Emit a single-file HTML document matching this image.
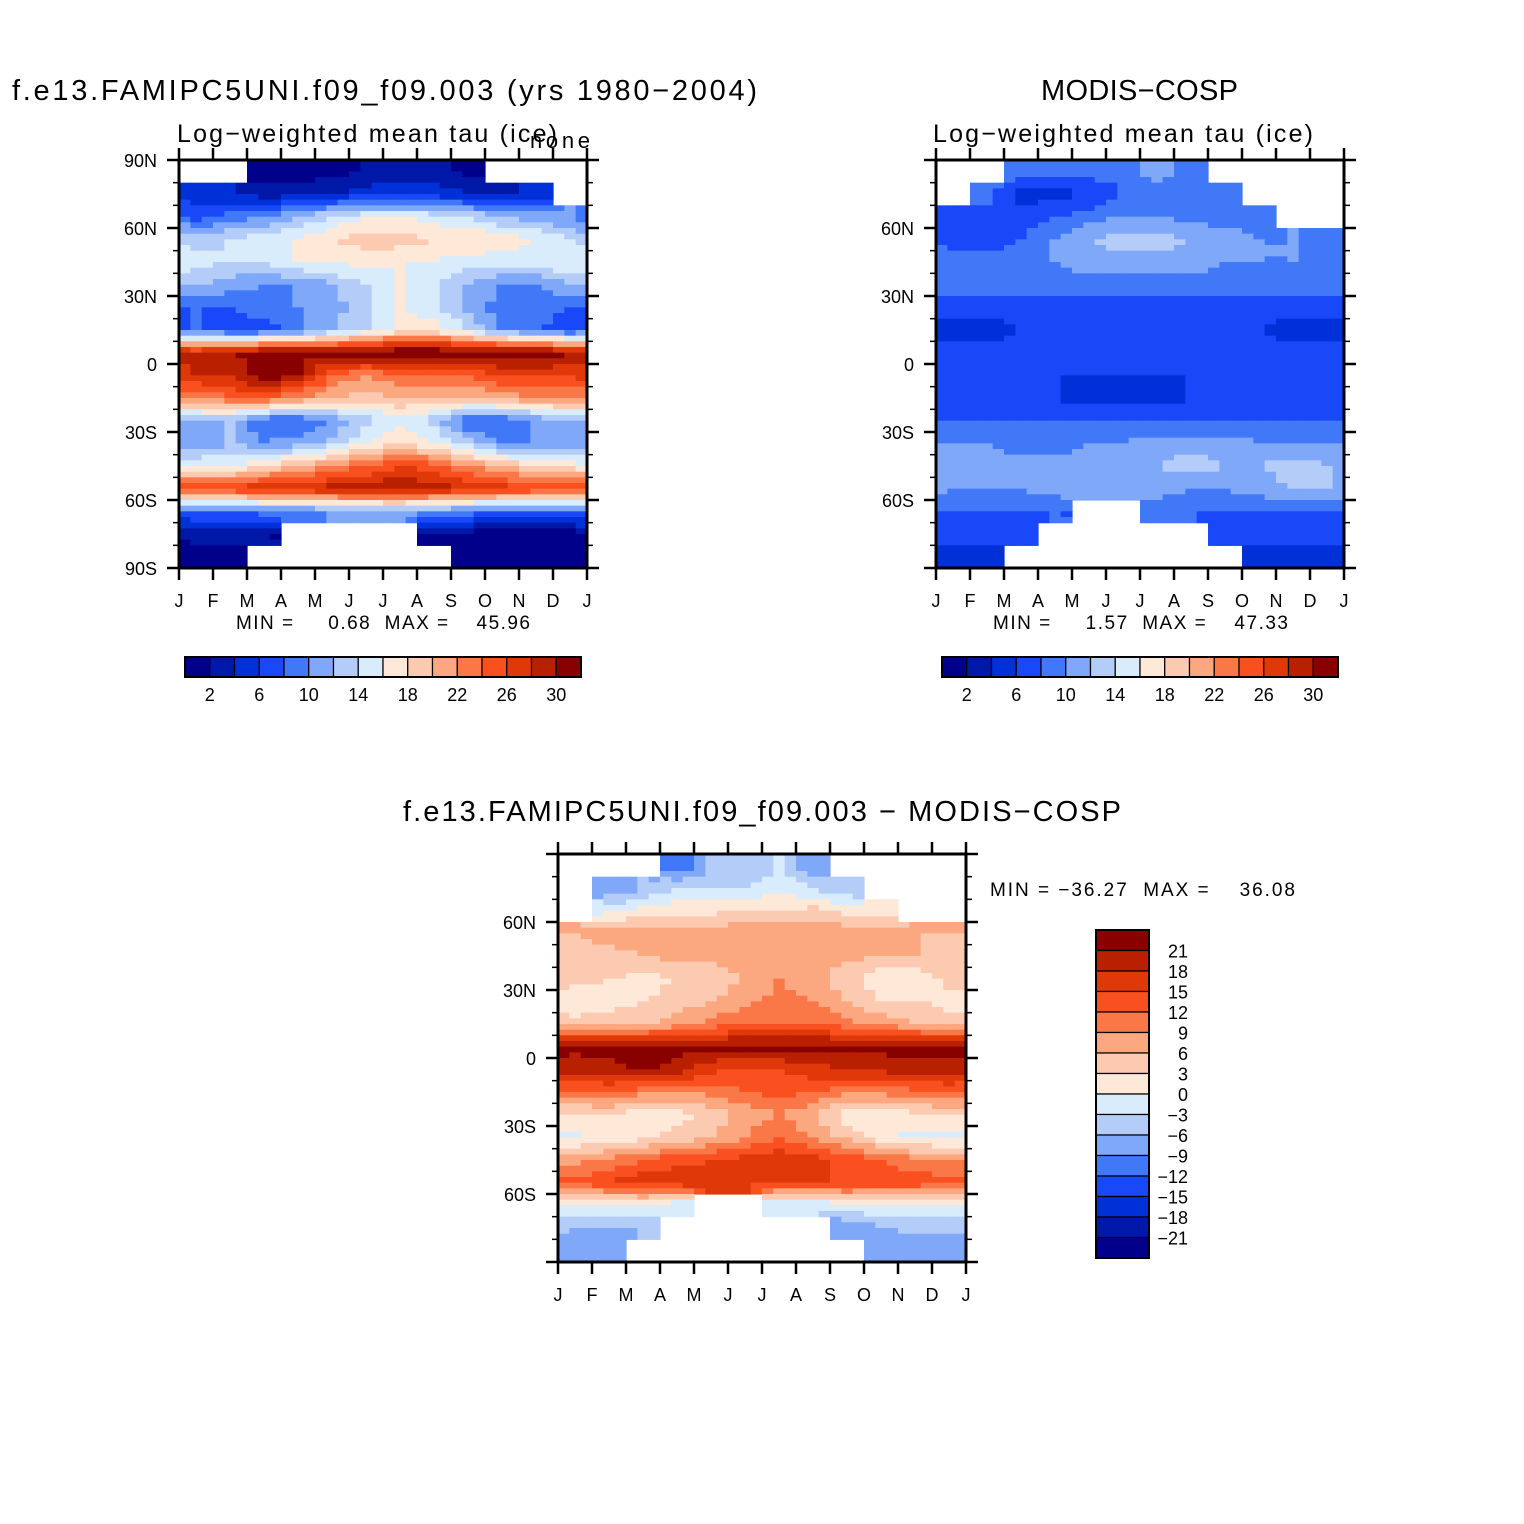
<!DOCTYPE html>
<html><head><meta charset="utf-8"><style>
body{margin:0;background:#fff}
svg{display:block;font-family:"Liberation Sans",sans-serif}
text{white-space:pre}
</style></head><body>
<svg id="s" width="1524" height="1524" viewBox="0 0 1524 1524" xmlns="http://www.w3.org/2000/svg">
<rect width="1524" height="1524" fill="#fff"/>
<text x="12" y="100" font-size="29" textLength="745" lengthAdjust="spacing">f.e13.FAMIPC5UNI.f09_f09.003 (yrs 1980−2004)</text>
<text x="177" y="142" font-size="25" textLength="380" lengthAdjust="spacing">Log−weighted mean tau (ice)</text>
<text x="530" y="148" font-size="22" textLength="60" lengthAdjust="spacing">none</text>
<text x="1041" y="100" font-size="29" textLength="197" lengthAdjust="spacing">MODIS−COSP</text>
<text x="933" y="142" font-size="25" textLength="380" lengthAdjust="spacing">Log−weighted mean tau (ice)</text>
<text x="403" y="821" font-size="29" textLength="718" lengthAdjust="spacing">f.e13.FAMIPC5UNI.f09_f09.003 − MODIS−COSP</text>
<text x="236" y="629" font-size="19" textLength="294" lengthAdjust="spacing">MIN =     0.68  MAX =    45.96</text>
<text x="993" y="629" font-size="19" textLength="295" lengthAdjust="spacing">MIN =     1.57  MAX =    47.33</text>
<text x="990" y="896" font-size="19" textLength="305" lengthAdjust="spacing">MIN = −36.27  MAX =    36.08</text>
</svg>
<script>
const colors=["#00008a","#0018a8","#0030d8","#1848f8","#4078f8","#80a8f8","#b4ccf8","#d8ecfc","#fee8d8","#fccab0","#fba880","#fa7848","#fa5020","#e03808","#b82000","#880000"];
const months=["J","F","M","A","M","J","J","A","S","O","N","D","J"];
const latLabels=["90N","60N","30N","0","30S","60S","90S"];
const modelValues=[
[null,null,1,1,1,2,3,3,1,null,null,null],
[5,4,3,3,4,5,5,5,4,3,5,null],
[7,9,10,12,14,16,16,15,14,12,11,10],
[13,14,15,16,18,19,19,18,18,17,16,14],
[15,14,14,16,16,17,16,16,15,15,15,16],
[12,11,10,10,12,14,16,14,12,10,10,12],
[8,8,9,10,11,13,16,15,11,9,9,8],
[8,7,7,9,12,14,17,17,14,10,8,7],
[28,30,31,31,31,32,32,32,32,32,32,30],
[28,28,32,30,24,22,24,24,24,26,26,26],
[22,24,24,22,20,19,20,20,20,21,22,22],
[12,12,8,8,10,13,15,13,8,8,10,12],
[10,12,10,11,13,16,18,16,13,10,10,10],
[16,16,18,20,22,24,26,25,22,20,18,17],
[26,26,28,28,29,29,30,29,28,27,26,26],
[8,8,9,9,10,11,11,10,9,8,8,8],
[3,3,2,null,null,null,null,1,1,1,1,1],
[1,1,null,null,null,null,null,null,1,1,1,1]];
const obsValues=[
[null,null,9,9,9,9,11,9,null,null,null,null],
[null,9,5,5,6,8,9,9,9,null,null,null],
[7,7,7,8,9,10,10,9,9,9,null,null],
[7,7,8,10,12,13,13,12,11,10,10,9],
[9,9,9,10,11,11,11,11,10,10,10,9],
[9,9,9,9,9,9,9,9,9,9,9,9],
[7,7,7,7,7,7,7,7,7,7,7,7],
[5,5,6,6,7,7,7,7,6,6,5,5],
[7,7,7,7,7,7,7,7,7,7,7,7],
[7,7,7,6,6,6,6,6,7,7,7,7],
[7,7,6,6,5,5,5,6,6,7,7,7],
[8,8,8,8,8,8,8,8,8,8,8,8],
[10,10,9,9,10,10,11,11,11,10,10,10],
[12,11,11,11,11,11,12,13,12,12,13,12],
[10,10,10,11,11,11,11,10,10,11,12,12],
[8,8,8,8,null,null,9,8,8,8,8,8],
[7,7,7,null,null,null,null,null,7,7,7,7],
[5,5,null,null,null,null,null,null,null,5,5,5]];
const diffValues=[
[null,null,null,-12,-6,-6,-3,-9,null,null,null,null],
[null,-9,-6,-3,-3,-3,-1,-3,-6,null,null,null],
[null,-1,1,2,2,3,3,4,2,1,null,null],
[6,7,8,8,8,8,9,8,8,7,6,6],
[5,5,6,7,7,8,8,8,7,6,6,5],
[4,3,2,3,4,6,9,7,4,1,1,4],
[1,2,3,4,6,8,10,9,6,3,3,2],
[4,4,5,8,10,12,12,12,10,8,6,4],
[22,22,22,22,22,22,22,22,22,22,22,22],
[19,20,22,20,16,14,15,17,18,19,20,20],
[12,12,10,9,10,12,13,12,10,10,11,12],
[2,3,1,2,4,7,9,6,1,1,2,3],
[-1,1,2,4,6,9,12,9,5,1,-1,-1],
[8,10,12,14,15,16,17,16,14,12,10,9],
[13,15,17,17,16,15,15,15,15,14,14,13],
[-1,-1,0,-3,null,null,-3,-3,-1,0,0,-1],
[-6,-6,-6,null,null,null,null,null,-9,-6,-5,-5],
[-8,-8,null,null,null,null,null,null,null,-9,-8,-9]];
const tauLevels=[2,6,10,14,18,22,26,30];
const diffLevels=[21,18,15,12,9,6,3,0,-3,-6,-9,-12,-15,-18,-21];

const NS="http://www.w3.org/2000/svg";
const svg=document.getElementById('s');
function el(t,a,p){const e=document.createElementNS(NS,t);for(const k in a)e.setAttribute(k,a[k]);(p||svg).appendChild(e);return e;}
function tauIdx(v){return Math.max(0,Math.min(15,Math.floor(v/2)));}
function diffIdx(v){return Math.max(0,Math.min(15,Math.floor((v+24)/3)));}

function panel(name,x0,y0,data,idxFn,showPoles){
  const W=408,H=408;
  const xs=m=>x0+m*W/12;
  const ys=lat=>y0+(90-lat)*H/180;
  const g=el('g',{},svg);
  
  
  const SUBR=4,SUBC=3;
  const get=(r,c)=>{if(r<0||r>17)return null;c=(c+12)%12;return data[r][c];};
  for(let r=0;r<18;r++)for(let c=0;c<12;c++){
    const v=data[r][c]; if(v===null)continue;
    for(let i=0;i<SUBR;i++)for(let j=0;j<SUBC;j++){
      const fr=(i+0.5)/SUBR-0.5, fc=(j+0.5)/SUBC-0.5;
      const rn=r+(fr<0?-1:1), cn=c+(fc<0?-1:1);
      let vr=get(rn,c); if(vr===null)vr=v;
      let vc=get(r,cn); if(vc===null)vc=v;
      let vrc=get(rn,cn); if(vrc===null)vrc=v;
      const a=Math.abs(fr),b=Math.abs(fc);
      const val=v*(1-a)*(1-b)+vr*a*(1-b)+vc*(1-a)*b+vrc*a*b;
      const latTop=90-r*10-i*10/SUBR;
      const x=xs(c+j/SUBC), y=ys(latTop);
      const rc=el('rect',{x:x.toFixed(2),y:y.toFixed(2),width:(W/12/SUBC+0.6).toFixed(2),height:(H/18/SUBR+0.6).toFixed(2),fill:colors[idxFn(val)]},g);
      
      
    }
  }
  const fr=el('rect',{x:x0,y:y0,width:W,height:H,fill:'none',stroke:'#000','stroke-width':3});
  
  
  for(let m=0;m<=12;m++){
    const x=xs(m);
    el('line',{x1:x,y1:y0+H,x2:x,y2:y0+H+12,stroke:'#000','stroke-width':2.5});
    el('line',{x1:x,y1:y0,x2:x,y2:y0-12,stroke:'#000','stroke-width':2.5});
    const t=el('text',{x:x,y:y0+H+39,'font-size':18,'text-anchor':'middle'});
    t.textContent=months[m];
    
    
  }
  for(let lat=-90;lat<=90;lat+=10){
    const y=ys(lat),maj=lat%30===0,L=maj?12:6;
    el('line',{x1:x0,y1:y,x2:x0-L,y2:y,stroke:'#000','stroke-width':maj?2.5:1.5});
    el('line',{x1:x0+W,y1:y,x2:x0+W+L,y2:y,stroke:'#000','stroke-width':maj?2.5:1.5});
  }
  latLabels.forEach((lb,k)=>{
    const lat=90-k*30;
    if(!showPoles&&(lat===90||lat===-90))return;
    const t=el('text',{x:x0-22,y:ys(lat)+7,'font-size':18,'text-anchor':'end'});
    t.textContent=lb;
    
    
  });
}
panel('model-panel',179,160,modelValues,tauIdx,true);
panel('obs-panel',936,160,obsValues,tauIdx,false);
panel('diff-panel',558,854,diffValues,diffIdx,false);

function hbar(name,x0,y0){
  const w=396/16;
  const g=el('g',{});
  
  
  colors.forEach((c,i)=>{el('rect',{x:x0+i*w,y:y0,width:w,height:20,fill:c,stroke:'#000','stroke-width':1.2},g);});
  el('rect',{x:x0,y:y0,width:396,height:20,fill:'none',stroke:'#000','stroke-width':2},g);
  tauLevels.forEach((v,k)=>{
    const t=el('text',{x:x0+(1+2*k)*w,y:y0+44,'font-size':18,'text-anchor':'middle'},g);
    t.textContent=v;
    
    
  });
}
hbar('model-colorbar',185,657);
hbar('obs-colorbar',942,657);
(function(){
  const x0=1096,y0=930,h=328/16;
  const g=el('g',{});
  
  
  for(let i=0;i<16;i++)el('rect',{x:x0,y:y0+i*h,width:53,height:h,fill:colors[15-i],stroke:'#000','stroke-width':1.2},g);
  el('rect',{x:x0,y:y0,width:53,height:328,fill:'none',stroke:'#000','stroke-width':2},g);
  diffLevels.forEach((v,k)=>{
    const t=el('text',{x:1188,y:y0+(k+1)*h+7,'font-size':18,'text-anchor':'end'},g);
    t.textContent=v<0?'−'+(-v):String(v);
    
    
  });
})();
</script>
</body></html>
